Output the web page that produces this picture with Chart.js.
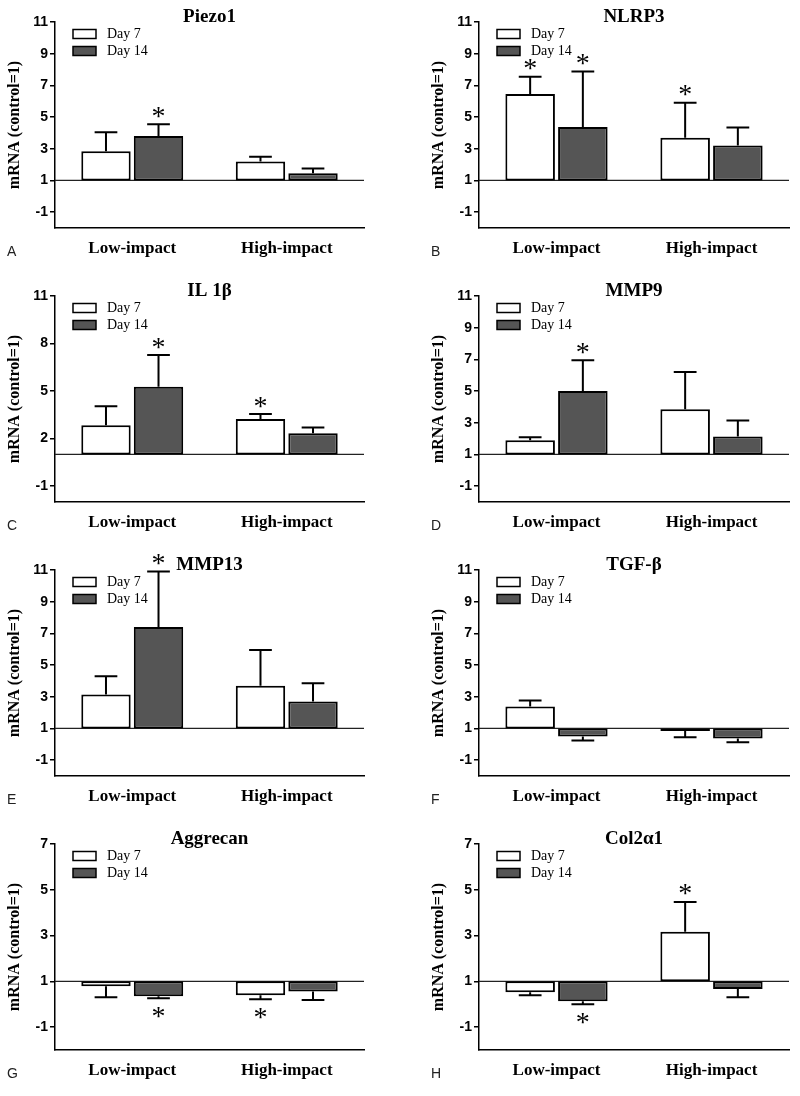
<!DOCTYPE html>
<html>
<head>
<meta charset="utf-8">
<script src="https://cdn.jsdelivr.net/npm/chart.js@4.4.1/dist/chart.umd.min.js"></script>
<style>
  html, body { margin: 0; padding: 0; background: #fff; }
  #wrap { position: relative; width: 800px; height: 1096px; }
  #wrap canvas { position: absolute; }
</style>
</head>
<body>
<div id="wrap"></div>
<script>
// Categories / series
const categories = ["Low-impact", "High-impact"];
const seriesNames = ["Day 7", "Day 14"];

// y tick labels
const ticksTall = [-1, 1, 3, 5, 7, 9, 11];
const ticksIl = [-1, 2, 5, 8, 11];
const ticksShort = [-1, 1, 3, 5, 7];

// Piezo1
const piezoDay7 = [2.85, 2.2];
const piezoDay7Err = [1.2, 0.3];
const piezoDay14 = [3.8, 1.45];
const piezoDay14Err = [0.75, 0.3];
const piezoStars7 = [0, 0];
const piezoStars14 = [1, 0];

// NLRP3
const nlrpDay7 = [6.45, 3.7];
const nlrpDay7Err = [1.1, 2.2];
const nlrpDay14 = [4.37, 3.2];
const nlrpDay14Err = [3.5, 1.15];
const nlrpStars7 = [1, 1];
const nlrpStars14 = [1, 0];

// IL 1β
const ilDay7 = [2.85, 3.23];
const ilDay7Err = [1.2, 0.32];
const ilDay14 = [5.27, 2.34];
const ilDay14Err = [2.0, 0.36];
const ilStars7 = [0, 1];
const ilStars14 = [1, 0];

// MMP9
const mmp9Day7 = [1.89, 3.85];
const mmp9Day7Err = [0.2, 2.35];
const mmp9Day14 = [5.0, 2.14];
const mmp9Day14Err = [1.95, 1.0];
const mmp9Stars7 = [0, 0];
const mmp9Stars14 = [1, 0];

// MMP13
const mmp13Day7 = [3.15, 3.7];
const mmp13Day7Err = [1.15, 2.25];
const mmp13Day14 = [7.4, 2.7];
const mmp13Day14Err = [3.5, 1.15];
const mmp13Stars7 = [0, 0];
const mmp13Stars14 = [1, 0];

// TGF-β
const tgfDay7 = [2.39, 0.84];
const tgfDay7Err = [0.38, 0.4];
const tgfDay14 = [0.5, 0.37];
const tgfDay14Err = [0.26, 0.24];
const tgfStars7 = [0, 0];
const tgfStars14 = [0, 0];

// Aggrecan
const aggDay7 = [0.78, 0.39];
const aggDay7Err = [0.48, 0.17];
const aggDay14 = [0.35, 0.56];
const aggDay14Err = [0.09, 0.38];
const aggStars7 = [0, 1];
const aggStars14 = [1, 0];

// Col2α1
const colDay7 = [0.52, 3.17];
const colDay7Err = [0.13, 1.3];
const colDay14 = [0.13, 0.66];
const colDay14Err = [0.13, 0.36];
const colStars7 = [0, 1];
const colStars14 = [1, 0];

const SERIF = "'Liberation Serif', 'Times New Roman', serif";
const SANS = "'Liberation Sans', Arial, sans-serif";

const panels = [
  { letter: "A", title: "Piezo1", max: 11, ticks: ticksTall, m7: piezoDay7, e7: piezoDay7Err, m14: piezoDay14, e14: piezoDay14Err, s7: piezoStars7, s14: piezoStars14 },
  { letter: "B", title: "NLRP3", max: 11, ticks: ticksTall, m7: nlrpDay7, e7: nlrpDay7Err, m14: nlrpDay14, e14: nlrpDay14Err, s7: nlrpStars7, s14: nlrpStars14 },
  { letter: "C", title: "IL 1β", max: 11, ticks: ticksIl, m7: ilDay7, e7: ilDay7Err, m14: ilDay14, e14: ilDay14Err, s7: ilStars7, s14: ilStars14 },
  { letter: "D", title: "MMP9", max: 11, ticks: ticksTall, m7: mmp9Day7, e7: mmp9Day7Err, m14: mmp9Day14, e14: mmp9Day14Err, s7: mmp9Stars7, s14: mmp9Stars14 },
  { letter: "E", title: "MMP13", max: 11, ticks: ticksTall, m7: mmp13Day7, e7: mmp13Day7Err, m14: mmp13Day14, e14: mmp13Day14Err, s7: mmp13Stars7, s14: mmp13Stars14 },
  { letter: "F", title: "TGF-β", max: 11, ticks: ticksTall, m7: tgfDay7, e7: tgfDay7Err, m14: tgfDay14, e14: tgfDay14Err, s7: tgfStars7, s14: tgfStars14 },
  { letter: "G", title: "Aggrecan", max: 7, ticks: ticksShort, m7: aggDay7, e7: aggDay7Err, m14: aggDay14, e14: aggDay14Err, s7: aggStars7, s14: aggStars14 },
  { letter: "H", title: "Col2α1", max: 7, ticks: ticksShort, m7: colDay7, e7: colDay7Err, m14: colDay14, e14: colDay14Err, s7: colStars7, s14: colStars14 }
];

const fills = ["#ffffff", "#555555"];

// draws control line, error bars, stars, legend, title and panel letter
const decorPlugin = {
  id: "decor",
  beforeDatasetsDraw(chart) {
    const ctx = chart.ctx;
    const area = chart.chartArea;
    const y1 = chart.scales.y.getPixelForValue(1);
    ctx.save();
    ctx.strokeStyle = "#222";
    ctx.lineWidth = 1.2;
    ctx.beginPath();
    ctx.moveTo(area.left, y1);
    ctx.lineTo(area.right, y1);
    ctx.stroke();
    ctx.restore();
  },
  afterDatasetsDraw(chart) {
    const ctx = chart.ctx;
    const p = chart.config.options.panel;
    const yScale = chart.scales.y;
    const area = chart.chartArea;
    const errs = [p.e7, p.e14];
    const means = [p.m7, p.m14];
    const stars = [p.s7, p.s14];
    ctx.save();
    ctx.strokeStyle = "#000";
    ctx.fillStyle = "#000";
    ctx.lineWidth = 2;
    chart.data.datasets.forEach((ds, di) => {
      const meta = chart.getDatasetMeta(di);
      meta.data.forEach((bar, i) => {
        const m = means[di][i];
        const up = m >= 1;
        const end = up ? m + errs[di][i] : m - errs[di][i];
        const y0 = yScale.getPixelForValue(m);
        const ye = yScale.getPixelForValue(end);
        const half = bar.width * 0.23;
        ctx.beginPath();
        ctx.moveTo(bar.x, y0);
        ctx.lineTo(bar.x, ye);
        ctx.moveTo(bar.x - half, ye);
        ctx.lineTo(bar.x + half, ye);
        ctx.stroke();
        if (stars[di][i]) {
          ctx.font = "28px " + SERIF;
          const tm = ctx.measureText("*");
          const gh = tm.actualBoundingBoxAscent + tm.actualBoundingBoxDescent;
          const cy = up ? ye - 12 : ye + 14;
          ctx.textAlign = "center";
          ctx.textBaseline = "alphabetic";
          ctx.fillText("*", bar.x, cy + gh / 2 - tm.actualBoundingBoxDescent);
        }
      });
    });

    // legend
    ctx.lineWidth = 1.5;
    seriesNames.forEach((name, k) => {
      const cy = area.top + 12 + k * 17;
      ctx.fillStyle = fills[k];
      ctx.fillRect(area.left + 18, cy - 4.5, 23, 9);
      ctx.strokeRect(area.left + 18, cy - 4.5, 23, 9);
      ctx.fillStyle = "#000";
      ctx.font = "14px " + SERIF;
      ctx.textAlign = "left";
      ctx.textBaseline = "middle";
      ctx.fillText(name, area.left + 52, cy);
    });

    // title
    ctx.font = "bold 19px " + SERIF;
    ctx.textAlign = "center";
    ctx.textBaseline = "middle";
    ctx.fillText(p.title, (area.left + area.right) / 2, area.top - 5);

    // panel letter
    ctx.font = "14px " + SANS;
    ctx.fillStyle = "#222";
    ctx.textAlign = "left";
    ctx.fillText(p.letter, chart.config.options.layout.padding.left + 7, 252);
    ctx.restore();
  }
};

const wrap = document.getElementById("wrap");

panels.forEach((p, idx) => {
  const col = idx % 2;
  const row = Math.floor(idx / 2);
  const cv = document.createElement("canvas");
  cv.width = 400;
  cv.height = 274;
  cv.style.left = (col * 400) + "px";
  cv.style.top = (row * 274) + "px";
  wrap.appendChild(cv);

  const padLeft = col === 0 ? 0 : 24;
  const padRight = col === 0 ? 36 : 11;

  new Chart(cv.getContext("2d"), {
    type: "bar",
    data: {
      labels: categories,
      datasets: [
        {
          label: seriesNames[0],
          data: p.m7.map(v => [1, v]),
          backgroundColor: fills[0],
          borderColor: "#000",
          borderWidth: 2,
          borderSkipped: false,
          categoryPercentage: 0.68,
          barPercentage: 0.94
        },
        {
          label: seriesNames[1],
          data: p.m14.map(v => [1, v]),
          backgroundColor: fills[1],
          borderColor: "#000",
          borderWidth: 2,
          borderSkipped: false,
          categoryPercentage: 0.68,
          barPercentage: 0.94
        }
      ]
    },
    options: {
      panel: p,
      responsive: false,
      animation: false,
      events: [],
      layout: { padding: { left: padLeft, right: padRight, top: 22, bottom: 0 } },
      plugins: {
        legend: { display: false },
        tooltip: { enabled: false }
      },
      scales: {
        x: {
          grid: { display: false },
          border: { color: "#000", width: 1.5 },
          ticks: {
            color: "#000",
            padding: 2,
            font: { family: SERIF, size: 17, weight: "bold" }
          },
          afterFit: s => { s.height = 46; }
        },
        y: {
          min: -2,
          max: p.max,
          afterBuildTicks: s => { s.ticks = p.ticks.map(v => ({ value: v })); },
          grid: { drawOnChartArea: false, tickLength: 5, color: "#000", lineWidth: 1.5 },
          border: { color: "#000", width: 1.5 },
          ticks: {
            color: "#000",
            padding: 2,
            font: { family: SANS, size: 14, weight: "bold" }
          },
          title: {
            display: true,
            text: "mRNA (control=1)",
            color: "#000",
            padding: { top: 5, bottom: 2 },
            font: { family: SERIF, size: 16, weight: "bold" }
          },
          afterFit: s => { s.width = 55; }
        }
      }
    },
    plugins: [decorPlugin]
  });
});
</script>
</body>
</html>
